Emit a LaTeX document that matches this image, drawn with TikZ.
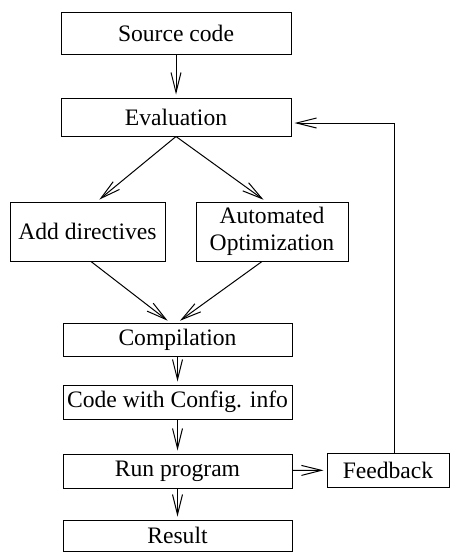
\documentclass[tikz,border=0pt]{standalone}
\usepackage{fontspec}
\setmainfont{Liberation Serif}
\usetikzlibrary{arrows.meta}
\begin{document}
\begin{tikzpicture}[x=0.5pt,y=-0.5pt,
	box/.style={draw,line width=0.5pt,inner sep=0pt,align=center,font=\fontsize{11.8}{13.4}\selectfont},
	arr/.style={draw,line width=0.5pt,shorten >=1.5pt,-{Straight Barb[length=10pt,width=5pt]}}]
	\useasboundingbox (0,0) rectangle (450,552);
	%Khung 1
	\node[box,minimum width=115pt,minimum height=21pt] (src) at (176,33) {Source code};
	%Khung 2
	\node[box,minimum width=115pt,minimum height=19pt] (eval) at (176,117) {Evaluation};
	%Khung 3.1, 3.2
	\node[box,minimum width=77.5pt,minimum height=29.5pt] (add) at (87.5,231.5) {Add directives};
	\node[box,minimum width=76pt,minimum height=29.5pt] (auto) at (272,231.5) {Automated\\Optimization};
	%Khung 4
	\node[box,minimum width=114.5pt,minimum height=16.5pt] (comp) at (177.5,339.5) {Compilation};
	%Khung 5
	\node[box,minimum width=114.5pt,minimum height=17pt] (code) at (177.5,402) {Code with Config. info};
	%Khung 6
	\node[box,minimum width=114.5pt,minimum height=17pt] (run) at (177.5,471) {Run program};
	\node[box,minimum width=61pt,minimum height=17pt] (fb) at (388,470) {Feedback};
	%Khung 7
	\node[box,minimum width=114.5pt,minimum height=15.5pt] (res) at (177.5,535.5) {Result};
	%Mui ten
	\draw[arr] (src) -- (eval);
	\draw[arr] (eval.south) -- ([xshift=4.75pt]add.north);
	\draw[arr] (eval.south) -- ([xshift=-3pt]auto.north);
	\draw[arr] ([xshift=1.75pt]add.south) -- ([xshift=-3.75pt]comp.north);
	\draw[arr] ([xshift=-5pt]auto.south) -- (comp.north);
	\draw[arr] (comp) -- (code);
	\draw[arr] (code) -- (run);
	\draw[arr] (run) -- (res);
	\draw[arr] (run) -- (fb);
	%Phan hoi
	\draw[arr] ([xshift=3pt]fb.north) |- ([yshift=-3pt]eval.east);
\end{tikzpicture}
\end{document}
